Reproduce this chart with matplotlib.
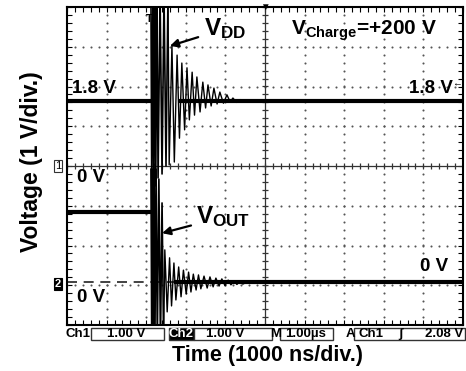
import numpy as np
import matplotlib.pyplot as plt
from matplotlib.patches import Rectangle

plt.rcParams['font.family'] = ['Liberation Sans', 'DejaVu Sans']
plt.rcParams['mathtext.fontset'] = 'custom'
plt.rcParams['mathtext.rm'] = 'Liberation Sans:bold'
plt.rcParams['mathtext.bf'] = 'Liberation Sans:bold'
plt.rcParams['mathtext.it'] = 'Liberation Sans:bold'

# ---- data: time in us from left screen edge (1 us/div), voltage in V (1 V/div) ----
trig_t = 2.12
ch1_level = 1.64          # VDD before / after the discharge
ch2_level_pre = 1.77      # VOUT before the discharge
ch2_level_post = 0.0
ch2_offset = -2.93        # screen position of the Ch2 ground marker (div)

ch1_burst_t = [2.12, 2.14, 2.17, 2.19, 2.22, 2.24, 2.27, 2.30, 2.35, 2.40, 2.45, 2.50, 2.55]
ch1_burst_v = [4.3, -0.5, 4.3, -0.45, 4.3, -0.5, 4.3, -0.3, 4.3, -0.2, 4.3, 0.0, 4.3]

ch1_ring_t = [2.58, 2.65, 2.71, 2.78, 2.84, 2.90, 2.97, 3.03, 3.09, 3.16, 3.22, 3.28, 3.36,
              3.43, 3.50, 3.56, 3.64, 3.71, 3.79, 3.86, 3.95, 4.04, 4.12, 4.19, 4.28, 4.37,
              4.44, 4.55]
ch1_ring_v = [0.03, 3.04, 0.10, 2.79, 0.70, 2.59, 0.91, 2.47, 1.16, 2.36, 1.28, 2.24, 1.36,
              2.11, 1.46, 2.04, 1.51, 1.96, 1.56, 1.86, 1.58, 1.79, 1.61, 1.71, 1.60, 1.67,
              1.61, 1.65]

ch2_burst_t = [2.12, 2.14, 2.16, 2.18, 2.20, 2.22, 2.25, 2.28, 2.32, 2.36, 2.40, 2.44]
ch2_burst_v = [2.85, -1.5, 2.85, -1.5, 2.85, -1.5, 2.85, -1.5, 2.6, -1.5, 2.0, -1.5]

ch2_ring_t = [2.47, 2.53, 2.59, 2.64, 2.70, 2.75, 2.82, 2.88, 2.94, 3.01, 3.07, 3.13, 3.19,
              3.26, 3.32, 3.38, 3.46, 3.54, 3.61, 3.69, 3.76, 3.84, 3.91, 3.99, 4.07, 4.14,
              4.22, 4.29, 4.37, 4.44, 4.55]
ch2_ring_v = [0.82, -0.74, 0.62, -0.59, 0.49, -0.44, 0.39, -0.36, 0.31, -0.29, 0.26, -0.24,
              0.21, -0.19, 0.19, -0.16, 0.16, -0.14, 0.14, -0.11, 0.11, -0.09, 0.09, -0.08,
              0.06, -0.06, 0.04, -0.05, 0.03, -0.04, 0.01]

# ---- figure ----
W, H = 466, 371
fig = plt.figure(figsize=(W / 100, H / 100), dpi=100, facecolor='white')
ax = fig.add_axes([67 / W, 1 - 325 / H, 396 / W, 318 / H])
ax.set_xlim(0, 10)
ax.set_ylim(-4, 4)

# graticule: dotted grid
dots = np.arange(0, 10.001, 0.2)
dots_y = np.arange(-4, 4.001, 0.2)
for gx in range(1, 10):
    if gx != 5:
        ax.plot([gx] * len(dots_y), dots_y, ls='none', marker='o', ms=1.5, mew=0, color='#555555')
for gy in range(-3, 4):
    if gy != 0:
        ax.plot(dots, [gy] * len(dots), ls='none', marker='o', ms=1.5, mew=0, color='#555555')

# centre cross with ticks
ax.axhline(0, color='#333333', lw=0.9)
ax.axvline(5, color='#333333', lw=0.9)
ax.plot(dots, np.zeros_like(dots), ls='none', marker='|', ms=5, mew=0.9, color='#333333')
ax.plot(np.full_like(dots_y, 5), dots_y, ls='none', marker='_', ms=5, mew=0.9, color='#333333')

# Ch2 ground reference (dashed)
ax.axhline(ch2_offset, color='#222222', lw=1.2, dashes=(6, 4))

# ---- Ch1 trace (VDD) ----
ax.plot([0, trig_t], [ch1_level, ch1_level], color='black', lw=3.0, solid_capstyle='butt')
ax.plot([ch1_ring_t[4], 10], [ch1_level, ch1_level], color='black', lw=3.0, solid_capstyle='butt')
ax.plot(ch1_burst_t, ch1_burst_v, color='black', lw=1.2)
ax.plot([ch1_burst_t[-1]] + ch1_ring_t, [ch1_burst_v[-1]] + ch1_ring_v, color='black', lw=1.0)

# ---- Ch2 trace (VOUT) ----
def ch2(v):
    return np.asarray(v) + ch2_offset

ax.plot([0, trig_t], ch2([ch2_level_pre, ch2_level_pre]), color='black', lw=3.0, solid_capstyle='butt')
ax.plot([ch2_ring_t[4], 10], ch2([ch2_level_post, ch2_level_post]), color='black', lw=3.0,
        solid_capstyle='butt')
ax.plot(ch2_burst_t, ch2(ch2_burst_v), color='black', lw=1.2)
ax.plot([ch2_burst_t[-1]] + ch2_ring_t, ch2([ch2_burst_v[-1]] + ch2_ring_v), color='black', lw=1.0)

# frame with inward ticks
ax.set_xticks(range(0, 11))
ax.set_yticks(range(-4, 5))
ax.set_xticks(dots, minor=True)
ax.set_yticks(dots_y, minor=True)
ax.tick_params(which='both', direction='in', length=3.5, width=0.8, top=True, right=True,
               labelbottom=False, labelleft=False)
for sp in ax.spines.values():
    sp.set_linewidth(1.5)
    sp.set_color('black')

# ---- annotations ----
ax.text(0.13, 1.96, '1.8 V', fontsize=13.5, fontweight='bold', ha='left', va='center')
ax.text(9.75, 1.96, '1.8 V', fontsize=13.5, fontweight='bold', ha='right', va='center')
ax.text(9.98, 2.08, '\u2190', fontsize=7, ha='right', va='center')
ax.text(0.25, -0.30, '0 V', fontsize=13.5, fontweight='bold', ha='left', va='center')
ax.text(0.25, -3.32, '0 V', fontsize=13.5, fontweight='bold', ha='left', va='center')
ax.text(9.62, -2.53, '0 V', fontsize=13.5, fontweight='bold', ha='right', va='center')
ax.text(5.65, 3.4, r'$\mathbf{V_{Charge}}$=+200 V', fontsize=15, fontweight='bold',
        ha='left', va='center')

ax.annotate(r'$\mathbf{V_{DD}}$', xy=(2.60, 3.02), xytext=(3.45, 3.45), fontsize=17.5,
            ha='left', va='center',
            arrowprops=dict(arrowstyle='-|>', color='black', lw=1.6, mutation_scale=12,
                            shrinkA=2, shrinkB=0))
ax.annotate(r'$\mathbf{V_{OUT}}$', xy=(2.40, -1.69), xytext=(3.27, -1.28), fontsize=17.5,
            ha='left', va='center',
            arrowprops=dict(arrowstyle='-|>', color='black', lw=1.6, mutation_scale=12,
                            shrinkA=2, shrinkB=0))

# top markers
ax.text(5.0, 4.0, '\u25bc', fontsize=7, ha='center', va='center', clip_on=False)
ax.text(2.08, 3.7, 'T', fontsize=8, fontweight='bold', ha='center', va='center')

# channel ground markers on the left edge
def px(x, y):
    return x / W, 1 - y / H

fig.text(*px(58, 166), '1', fontsize=8, ha='center', va='center',
         bbox=dict(boxstyle='square,pad=0.1', fc='white', ec='#333333', lw=0.8))
fig.text(*px(58, 284), '2', fontsize=8, fontweight='bold', color='white', ha='center', va='center',
         bbox=dict(boxstyle='square,pad=0.1', fc='black', ec='black', lw=0.8))

# ---- status bar ----
for x0, x1, filled in [(91, 164, False), (169, 194, True), (194, 272, False),
                       (280, 333, False), (354, 465, False)]:
    fig.add_artist(Rectangle(px(x0, 340), (x1 - x0) / W, 12 / H, transform=fig.transFigure,
                             fc='black' if filled else 'white', ec='#333333', lw=1.0))

sb = dict(fontsize=9.5, fontweight='bold', va='center')
fig.text(*px(66, 334), 'Ch1', ha='left', **sb)
fig.text(*px(126, 334), '1.00 V', ha='center', **sb)
fig.text(*px(181, 334), 'Ch2', ha='center', color='white', **sb)
fig.text(*px(225, 334), '1.00 V', ha='center', **sb)
fig.text(*px(276, 334), 'M', ha='center', **sb)
fig.text(*px(306, 334), '1.00\u00b5s', ha='center', **sb)
fig.text(*px(350, 334), 'A', ha='center', **sb)
fig.text(*px(371, 334), 'Ch1', ha='center', **sb)
fig.text(*px(400, 334), '\u0283', ha='center', **sb)
fig.text(*px(463, 334), '2.08 V', ha='right', **sb)

# axis titles
fig.text(*px(268, 355), 'Time (1000 ns/div.)', fontsize=15.5, fontweight='bold',
         ha='center', va='center')
fig.text(*px(32, 162), 'Voltage (1 V/div.)', fontsize=16.5, fontweight='bold',
         rotation=90, ha='center', va='center')

fig.savefig('out.png', dpi=100, facecolor='white')
